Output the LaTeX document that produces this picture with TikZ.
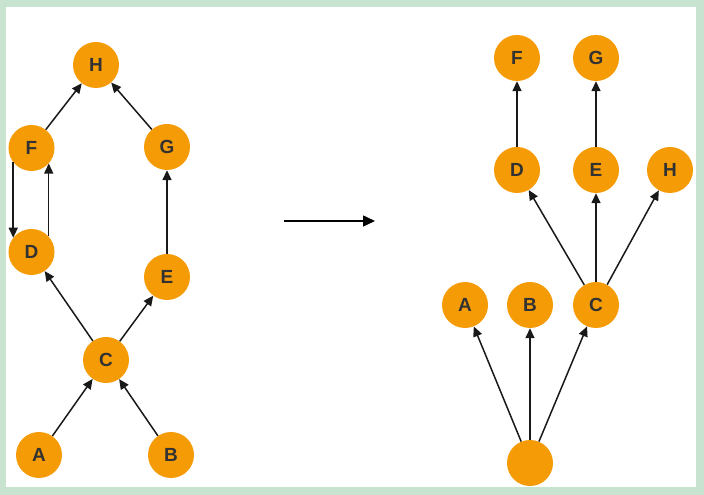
\documentclass[tikz,border=0pt]{standalone}
\usepackage{fontspec}
\setmainfont{Liberation Sans}
\usetikzlibrary{
    arrows.meta,
    positioning
}
\definecolor{vertexorange}{RGB}{245,155,5}
\definecolor{framegreen}{RGB}{200,228,208}
\definecolor{lettergray}{RGB}{50,50,50}
\tikzset{
    % Vertices
    vertex/.style={
        circle,
        fill=vertexorange,
        draw=none,
        minimum size=46pt,
        inner sep=0pt,
        text=lettergray,
        font=\fontsize{19}{19}\selectfont\bfseries
    },
    % Edges
    edge/.style={
        -{Triangle[length=10pt,width=9pt]},
        line width=1.5pt,
        draw=black!90
    },
    bigarrow/.style={
        -{Triangle[length=12pt,width=11pt]},
        line width=1.5pt,
        draw=black
    }
}

\begin{document}
\begin{tikzpicture}[x=1pt, y=1pt]

    % Frame
    \fill[framegreen] (0,0) rectangle (704,495);
    \fill[white] (6,8) rectangle (696,488);
    \useasboundingbox (0,0) rectangle (704,495);

    % Left graph
    \node[vertex] (lH) at (96,430) {H};
    \node[vertex] (lF) at (31.5,347) {F};
    \node[vertex] (lG) at (167,348) {G};
    \node[vertex] (lD) at (31.5,243) {D};
    \node[vertex] (lE) at (167,218) {E};
    \node[vertex] (lC) at (106,135) {C};
    \node[vertex] (lA) at (39,40) {A};
    \node[vertex] (lB) at (171,40) {B};

    \draw[edge] (lA) -- (lC);
    \draw[edge] (lB) -- (lC);
    \draw[edge] (lC) -- (lD);
    \draw[edge] (lC) -- (lE);
    \draw[edge] (lE) -- (lG);
    \draw[edge] (lG) -- (lH);
    \draw[edge] (lF) -- (lH);
    \draw[edge] (lF.218) -- (lD.142);
    \draw[edge] (lD.42) -- (lF.318);

    % Transformation arrow
    \coordinate (arrfrom) at (284,274);
    \coordinate (arrto) at (375,274);
    \draw[bigarrow] (arrfrom) -- (arrto);

    % Right graph
    \node[vertex] (rF) at (517,437) {F};
    \node[vertex] (rG) at (596,437) {G};
    \node[vertex] (rD) at (517,325) {D};
    \node[vertex] (rE) at (596,325) {E};
    \node[vertex] (rH) at (670,325) {H};
    \node[vertex] (rA) at (465,190) {A};
    \node[vertex] (rB) at (530,190) {B};
    \node[vertex] (rC) at (596,190) {C};
    \node[vertex] (rRoot) at (530,32) {};

    \draw[edge] (rRoot) -- (rA);
    \draw[edge] (rRoot) -- (rB);
    \draw[edge] (rRoot) -- (rC);
    \draw[edge] (rC) -- (rD);
    \draw[edge] (rC) -- (rE);
    \draw[edge] (rC) -- (rH);
    \draw[edge] (rD) -- (rF);
    \draw[edge] (rE) -- (rG);

\end{tikzpicture}
\end{document}
